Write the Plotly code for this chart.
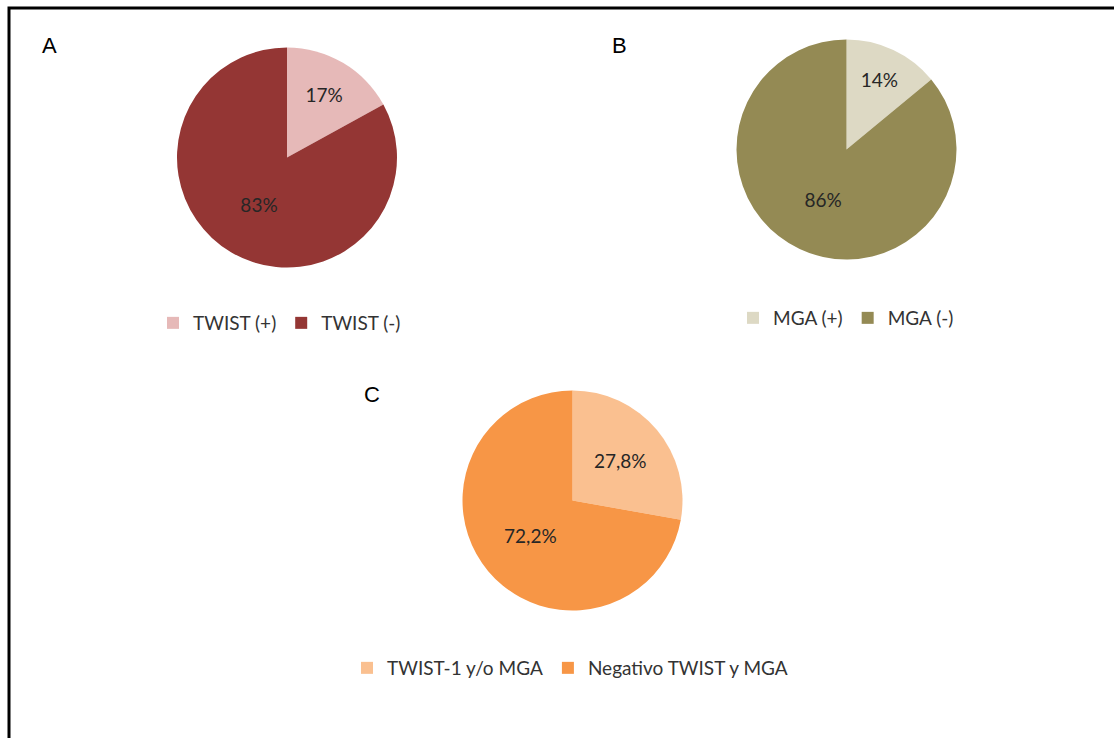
import plotly.graph_objects as go

W, H = 1114, 738

# Panel A: TWIST
twist_labels = ["TWIST (+)", "TWIST (-)"]
twist_values = [17, 83]
twist_colors = ["#E6B9B8", "#943634"]

# Panel B: MGA
mga_labels = ["MGA (+)", "MGA (-)"]
mga_values = [14, 86]
mga_colors = ["#DDD9C4", "#948A54"]

# Panel C: combined
comb_labels = ["TWIST-1 y/o MGA", "Negativo TWIST y MGA"]
comb_values = [27.8, 72.2]
comb_colors = ["#FAC090", "#F79646"]

panel_letters = ["A", "B", "C"]

FONT = "Lato, 'Open Sans', sans-serif"
TXT = "#262626"


def px_dom(cx, cy, r):
    return dict(x=[(cx - r) / W, (cx + r) / W],
                y=[1 - (cy + r) / H, 1 - (cy - r) / H])


def pct(v):
    return f"{v:g}%".replace(".", ",")


def pie(labels, values, colors, dom, legend):
    return go.Pie(
        labels=labels, values=values, sort=False, direction="clockwise",
        rotation=0, domain=dom, legend=legend,
        marker=dict(colors=colors, line=dict(width=0)),
        text=[pct(v) for v in values], textinfo="text",
        textposition="inside", insidetextorientation="horizontal",
        textfont=dict(family=FONT, size=19, color=TXT),
        hoverinfo="label+percent", showlegend=True,
    )


fig = go.Figure()
fig.add_trace(pie(twist_labels, twist_values, twist_colors, px_dom(287, 157.5, 110), "legend"))
fig.add_trace(pie(mga_labels, mga_values, mga_colors, px_dom(846.5, 149.5, 110), "legend2"))
fig.add_trace(pie(comb_labels, comb_values, comb_colors, px_dom(572.5, 500.5, 110), "legend3"))


def leg(x, y):
    return dict(orientation="h", x=x / W, y=1 - y / H, xanchor="left", yanchor="middle",
                font=dict(family=FONT, size=19, color="#333333"), bgcolor="rgba(0,0,0,0)",
                itemclick=False, itemdoubleclick=False)


# panel letters
letter_pos = [(49, 45), (619, 45), (372, 394)]
annotations = [
    dict(text=t, x=x / W, y=1 - y / H, xref="paper", yref="paper", showarrow=False,
         xanchor="center", yanchor="middle",
         font=dict(family="Liberation Sans, Arial, sans-serif", size=22, color="#000"))
    for t, (x, y) in zip(panel_letters, letter_pos)
]

fig.update_layout(
    width=W, height=H, margin=dict(l=0, r=0, t=0, b=0),
    paper_bgcolor="white", plot_bgcolor="white",
    legend=leg(153, 323), legend2=leg(733, 318), legend3=leg(347, 668),
    annotations=annotations,
    shapes=[dict(type="rect", xref="paper", yref="paper",
                 x0=9 / W, x1=1.02, y0=-0.02, y1=1 - 8 / H,
                 line=dict(color="black", width=3), fillcolor="rgba(0,0,0,0)")],
)

fig.write_html("out.html")
